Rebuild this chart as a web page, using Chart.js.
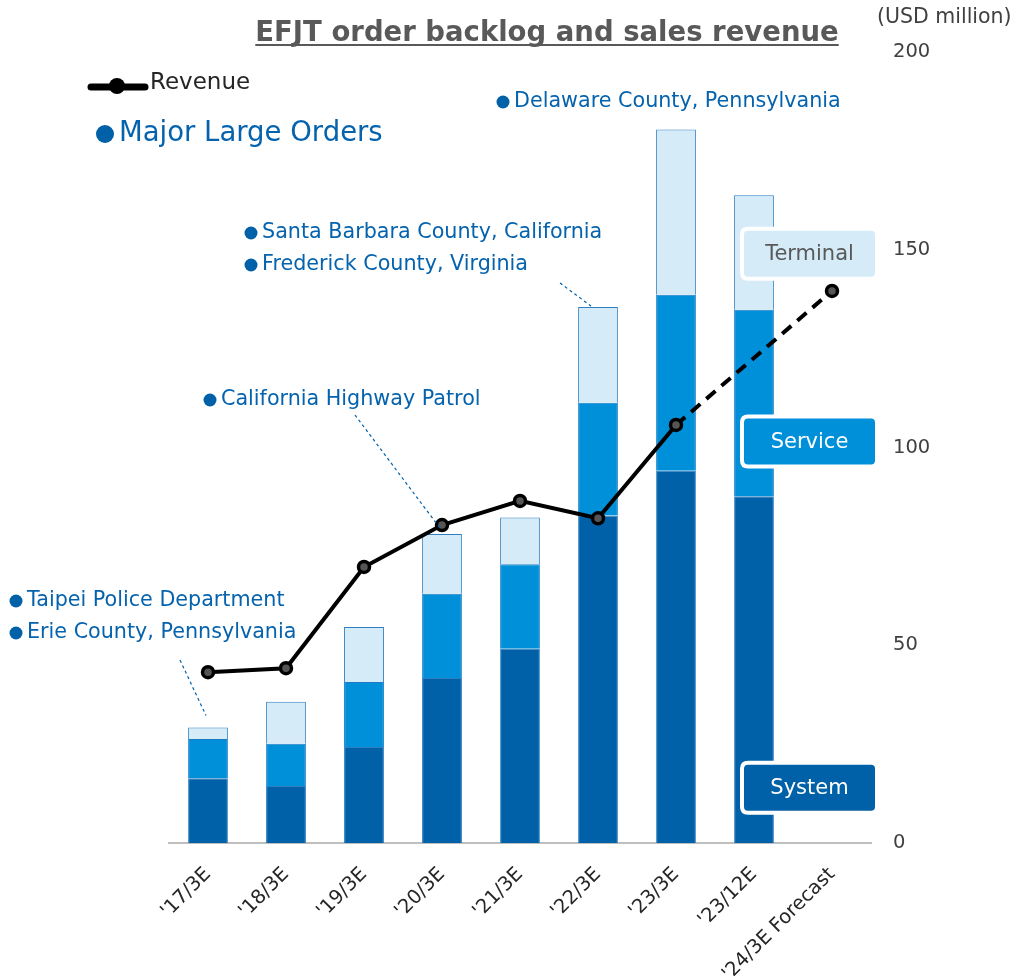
<!DOCTYPE html>
<html>
<head>
<meta charset="utf-8">
<script src="https://cdn.jsdelivr.net/npm/chart.js@4/dist/chart.umd.min.js"></script>
<style>
  html, body { margin: 0; padding: 0; background: #fff; }
  #wrap { width: 1018px; height: 980px; position: relative; }
</style>
</head>
<body>
<div id="wrap"><canvas id="my-chart" width="1018" height="980"></canvas></div>
<script>
const periods = ["'17/3E", "'18/3E", "'19/3E", "'20/3E", "'21/3E", "'22/3E", "'23/3E", "'23/12E", "'24/3E Forecast"];
const systemOrders = [16.4, 14.4, 24.3, 41.7, 49.1, 82.8, 94.1, 87.7, null];
const serviceOrders = [9.9, 10.7, 16.4, 21.3, 21.4, 28.5, 44.5, 47.1, null];
const terminalOrders = [2.9, 10.6, 13.9, 15.1, 11.8, 24.2, 41.8, 29.0, null];
const revenue = [43.2, 44.2, 69.8, 80.4, 86.5, 82.1, 105.7, null, 139.6];
const yTicks = [0, 50, 100, 150, 200];

const FONT = "'DejaVu Sans', Verdana, sans-serif";
const BLUE_TXT = "#0563ae";

// big order notes: category they point at, text lines, start of the leader line
const orderNotes = [
  { idx: 0, x: 10, y: 601, lines: ["Taipei Police Department", "Erie County, Pennsylvania"], from: [180, 660], dx: -2, gap: 12 },
  { idx: 3, x: 204, y: 400, lines: ["California Highway Patrol"], from: [355, 415], dx: -2, gap: 6 },
  { idx: 5, x: 245, y: 233, lines: ["Santa Barbara County, California", "Frederick County, Virginia"], from: [560, 283], dx: -7, gap: 1 },
  { idx: 6, x: 497, y: 102, lines: ["Delaware County, Pennsylvania"], from: null }
];

const segBoxes = [
  { text: "Terminal", value: 149, fill: "#d5ebf8", color: "#595959" },
  { text: "Service", value: 101.5, fill: "#0090da", color: "#ffffff" },
  { text: "System", value: 14, fill: "#0060a8", color: "#ffffff" }
];

function roundRect(ctx, x, y, w, h, r) {
  ctx.beginPath();
  ctx.moveTo(x + r, y);
  ctx.lineTo(x + w - r, y);
  ctx.quadraticCurveTo(x + w, y, x + w, y + r);
  ctx.lineTo(x + w, y + h - r);
  ctx.quadraticCurveTo(x + w, y + h, x + w - r, y + h);
  ctx.lineTo(x + r, y + h);
  ctx.quadraticCurveTo(x, y + h, x, y + h - r);
  ctx.lineTo(x, y + r);
  ctx.quadraticCurveTo(x, y, x + r, y);
  ctx.closePath();
}

const overlay = {
  id: "overlay",
  afterDraw(chart) {
    const ctx = chart.ctx;
    const xs = chart.scales.x, ys = chart.scales.y;
    ctx.save();

    // title
    ctx.font = "bold 27.5px " + FONT;
    ctx.fillStyle = "#595959";
    ctx.textAlign = "center";
    ctx.textBaseline = "alphabetic";
    const title = "EFJT order backlog and sales revenue";
    ctx.fillText(title, 547, 41);
    const tw = ctx.measureText(title).width;
    ctx.fillRect(547 - tw / 2, 44, tw, 2);

    // unit
    ctx.font = "20.5px " + FONT;
    ctx.fillStyle = "#404040";
    ctx.textAlign = "left";
    ctx.textBaseline = "middle";
    ctx.fillText("(USD million)", 877, 18);

    // revenue legend
    ctx.strokeStyle = "#000";
    ctx.lineWidth = 7;
    ctx.lineCap = "round";
    ctx.beginPath(); ctx.moveTo(91, 87); ctx.lineTo(145, 87); ctx.stroke();
    ctx.fillStyle = "#000";
    ctx.beginPath(); ctx.arc(117, 86, 8, 0, Math.PI * 2); ctx.fill();
    ctx.font = "23px " + FONT;
    ctx.fillStyle = "#262626";
    ctx.fillText("Revenue", 150, 83);

    // major orders legend
    ctx.fillStyle = "#0060a8";
    ctx.beginPath(); ctx.arc(105, 134, 9, 0, Math.PI * 2); ctx.fill();
    ctx.font = "27.5px " + FONT;
    ctx.fillStyle = BLUE_TXT;
    ctx.fillText("Major Large Orders", 119, 134);

    // order notes
    orderNotes.forEach(n => {
      ctx.font = "20.7px " + FONT;
      n.lines.forEach((t, i) => {
        const yy = n.y + i * 32;
        ctx.fillStyle = "#0060a8";
        ctx.beginPath(); ctx.arc(n.x + 6, yy, 6.5, 0, Math.PI * 2); ctx.fill();
        ctx.fillStyle = BLUE_TXT;
        ctx.fillText(t, n.x + 17, yy);
      });
      if (n.from) {
        const total = systemOrders[n.idx] + serviceOrders[n.idx] + terminalOrders[n.idx];
        const tx = xs.getPixelForValue(n.idx) + n.dx;
        const ty = ys.getPixelForValue(total) - n.gap;
        ctx.strokeStyle = "#0060a8";
        ctx.lineWidth = 1.2;
        ctx.lineCap = "butt";
        ctx.setLineDash([3, 3]);
        ctx.beginPath(); ctx.moveTo(n.from[0], n.from[1]); ctx.lineTo(tx, ty); ctx.stroke();
        ctx.setLineDash([]);
      }
    });

    // segment label boxes
    segBoxes.forEach(b => {
      const cy = ys.getPixelForValue(b.value);
      const bx = 742, bw = 135, bh = 50;
      roundRect(ctx, bx, cy - bh / 2, bw, bh, 6);
      ctx.fillStyle = b.fill;
      ctx.fill();
      ctx.strokeStyle = "#ffffff";
      ctx.lineWidth = 4;
      ctx.stroke();
      ctx.font = "21px " + FONT;
      ctx.fillStyle = b.color;
      ctx.textAlign = "center";
      ctx.fillText(b.text, bx + bw / 2, cy + 1);
      ctx.textAlign = "left";
    });

    ctx.restore();
  }
};

const ctx = document.getElementById("my-chart").getContext("2d");
const chart = new Chart(ctx, {
  data: {
    labels: periods,
    datasets: [
      {
        type: "line",
        label: "Revenue",
        data: revenue,
        stack: "rev",
        order: 0,
        borderColor: "#000",
        borderWidth: 4,
        pointRadius: 5.5,
        pointBorderWidth: 3.5,
        pointBorderColor: "#000",
        pointBackgroundColor: "#555",
        spanGaps: true,
        tension: 0,
        segment: {
          borderDash: (c) => (c.p1DataIndex >= 8 ? [12, 8] : undefined)
        }
      },
      {
        type: "bar",
        label: "System",
        data: systemOrders,
        stack: "orders",
        order: 1,
        backgroundColor: "#0060a8",
        borderColor: "#2d7fc1",
        borderWidth: 1
      },
      {
        type: "bar",
        label: "Service",
        data: serviceOrders,
        stack: "orders",
        order: 1,
        backgroundColor: "#0090da",
        borderColor: "#1a7cc4",
        borderWidth: 1
      },
      {
        type: "bar",
        label: "Terminal",
        data: terminalOrders,
        stack: "orders",
        order: 1,
        backgroundColor: "#d5ebf8",
        borderColor: "#2d7fc1",
        borderWidth: 1
      }
    ]
  },
  options: {
    responsive: false,
    animation: false,
    layout: { padding: { left: 169, top: 52, right: 0, bottom: 0 } },
    datasets: { bar: { categoryPercentage: 1, barPercentage: 0.51 } },
    plugins: {
      legend: { display: false },
      tooltip: { enabled: false },
      title: { display: false }
    },
    scales: {
      x: {
        stacked: true,
        offset: true,
        grid: { display: false, drawTicks: false },
        border: { display: true, color: "#bfbfbf", width: 2 },
        afterFit: (s) => { s.height = 137; },
        ticks: {
          color: "#262626",
          font: { family: FONT, size: 19.5 },
          minRotation: 45,
          maxRotation: 45,
          padding: 20
        }
      },
      y: {
        position: "right",
        stacked: true,
        min: 0,
        max: 200,
        afterFit: (s) => { s.width = 147; },
        afterBuildTicks: (s) => { s.ticks = yTicks.map(v => ({ value: v })); },
        grid: { display: false, drawTicks: false },
        border: { display: false },
        ticks: {
          color: "#404040",
          font: { family: FONT, size: 19.5 },
          padding: 22
        }
      }
    }
  },
  plugins: [overlay]
});
</script>
</body>
</html>
